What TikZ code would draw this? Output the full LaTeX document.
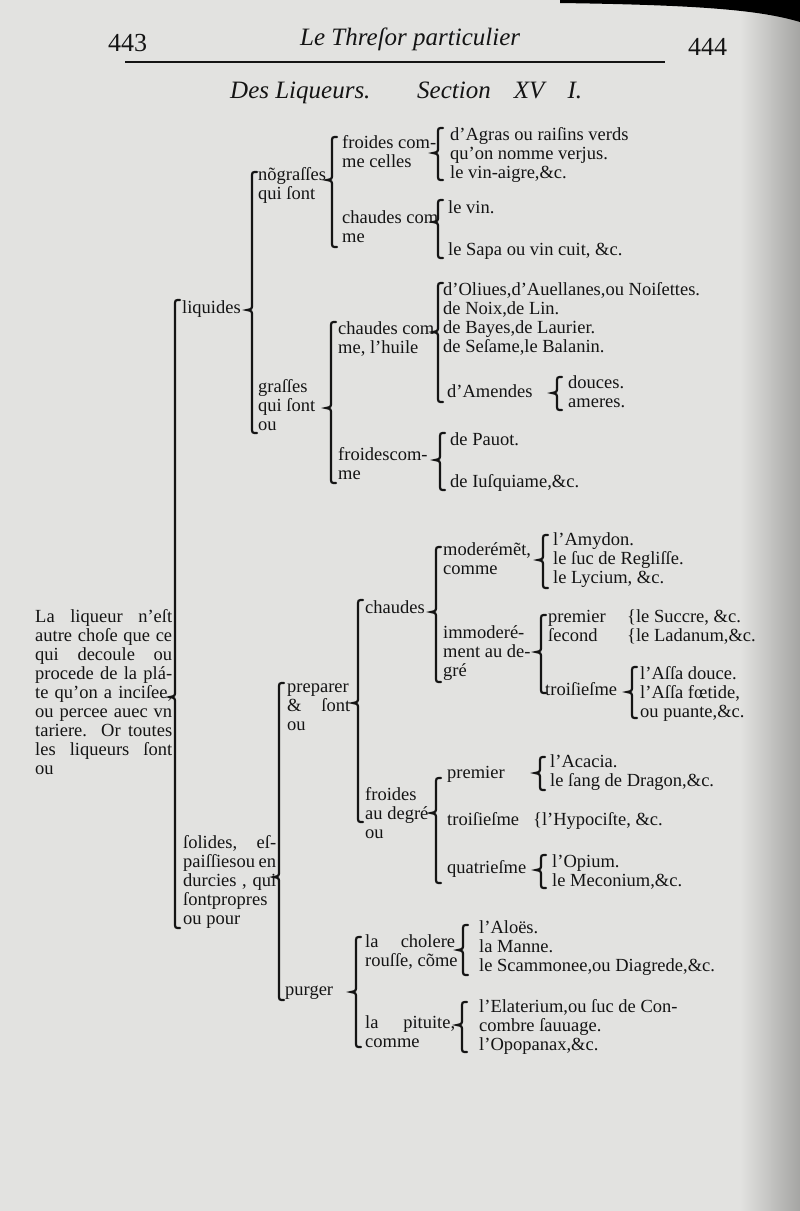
\documentclass[tikz,border=0pt]{standalone}
\usepackage{fontspec}
\setmainfont{Liberation Serif}
\usepackage{xcolor}
\definecolor{papier}{RGB}{226,226,224}
\definecolor{ombre}{RGB}{165,165,163}
\definecolor{encre}{RGB}{20,20,20}
\newcommand\corps{\fontsize{18.5}{19}\selectfont}
\newcommand\entete{\fontsize{25}{25}\selectfont\itshape}
\newcommand\folio{\fontsize{26}{26}\selectfont}
\newcommand\just[2]{\makebox[#1][s]{#2}}
% accolade: x, haut, pointe, bas
\newcommand\accol[4]{%
  \draw[accol] (#1+5,#2) .. controls (#1,#2) .. (#1,#2+6) -- (#1,#3-6)
    .. controls (#1,#3-1) .. (#1-5,#3) .. controls (#1,#3+1) .. (#1,#3+6)
    -- (#1,#4-6) .. controls (#1,#4) .. (#1+5,#4);}

\begin{document}
\begin{tikzpicture}[x=1pt,y=-1pt]
\tikzset{
    txt/.style={%
        anchor=base west,
        inner sep=0pt,
        align=left,
        text=encre,
        font=\corps
        },
    accol/.style={%
        draw=encre,
        line width=2.2pt,
        line cap=round
        },
}
%%%PAGE
\useasboundingbox (0,0) rectangle (800,1211);
\fill[papier] (0,0) rectangle (800,1211);
\shade[left color=papier, right color=ombre] (740,0) rectangle (800,1211);
\fill[black] (560,0) -- (800,0) -- (800,22) .. controls (760,10) and (700,5) .. (560,3) -- cycle;
%%%TITRE (base = last line)
\node[txt, font=\folio] (p443) at (108,51) {443};
\node[txt, font=\entete] (threfor) at (300,45) {Le Threſor particulier};
\node[txt, font=\folio] (p444) at (688,55) {444};
\draw[encre, line width=2.5pt] (125,62) -- (665,62);
\node[txt, font=\entete] (des) at (230,98) {Des Liqueurs.};
\node[txt, font=\entete] (sect) at (417,98) {\just{165pt}{Section XV I.}};
%%%RACINE
\node[txt] (racine) at (35,774) {\just{137pt}{La liqueur n'eſt}\\
  \just{137pt}{autre choſe que ce}\\ \just{137pt}{qui decoule ou}\\
  \just{137pt}{procede de la plá-}\\ \just{137pt}{te qu'on a inciſee,}\\
  \just{137pt}{ou percee auec vn}\\ \just{137pt}{tariere. Or toutes}\\
  \just{137pt}{les liqueurs ſont}\\ ou};
\accol{175}{300}{697}{928}
%%%LIQUIDES
\node[txt] (liquides) at (182,313) {liquides};
\accol{252}{172}{310}{433}
\node[txt] (nograsses) at (258,199) {nõgraſſes\\qui ſont};
\accol{332}{137}{180}{247}
\node[txt] (froidesA) at (342,167) {froides com-\\me celles};
\accol{438}{128}{153}{180}
\node[txt] (agras) at (450,178) {d'Agras ou raiſins verds\\qu'on nomme verjus.\\le vin-aigre,\&c.};
\node[txt] (chaudesA) at (342,242) {chaudes com\\me};
\accol{438}{200}{222}{258}
\node[txt] (vin) at (448,213) {le vin.};
\node[txt] (sapa) at (448,255) {le Sapa ou vin cuit, \&c.};
\node[txt] (grasses) at (258,430) {graſſes\\qui ſont\\ou};
\accol{331}{322}{408}{483}
\node[txt] (chaudesB) at (338,353) {chaudes com\\me, l'huile};
\accol{438}{283}{332}{402}
\node[txt] (huiles) at (443,352) {d'Oliues,d'Auellanes,ou Noiſettes.\\de Noix,de Lin.\\de Bayes,de Laurier.\\de Seſame,le Balanin.};
\node[txt] (amendes) at (447,397) {d'Amendes};
\accol{557}{377}{393}{410}
\node[txt] (douces) at (568,407) {douces.\\ameres.};
\node[txt] (froidesB) at (338,479) {froidescom-\\me};
\accol{440}{433}{460}{490}
\node[txt] (pauot) at (450,445) {de Pauot.};
\node[txt] (iusquiame) at (450,487) {de Iuſquiame,\&c.};
%%%SOLIDES
\node[txt] (solides) at (183,924) {\just{93pt}{ſolides, eſ-}\\ \just{93pt}{paiſſiesou en}\\
  \just{93pt}{durcies , qui}\\ ſontpropres\\ ou pour};
\accol{279}{683}{877}{1000}
\node[txt] (preparer) at (287,730) {preparer\\ \just{63pt}{\& ſont}\\ou};
\accol{358}{600}{703}{822}
\node[txt] (chaudesC) at (365,613) {chaudes};
\accol{436}{547}{612}{682}
\node[txt] (moderement) at (443,574) {moderémẽt,\\comme};
\accol{543}{535}{560}{588}
\node[txt] (amydon) at (553,583) {l'Amydon.\\le ſuc de Regliſſe.\\le Lycium, \&c.};
\node[txt] (immoderement) at (443,676) {immoderé-\\ment au de-\\gré};
\accol{541}{615}{652}{693}
\node[txt] (premierA) at (548,622) {premier};
\node[txt] (secondA) at (548,641) {ſecond};
\node[txt] (succre) at (627,622) {\{le Succre, \&c.};
\node[txt] (ladanum) at (627,641) {\{le Ladanum,\&c.};
\node[txt] (troisiemeA) at (545,695) {troiſieſme};
\accol{632}{667}{692}{718}
\node[txt] (assa) at (640,717) {l'Aſſa douce.\\l'Aſſa fœtide,\\ou puante,\&c.};
\node[txt] (froidesC) at (365,838) {froides\\au degré\\ou};
\accol{436}{778}{813}{883}
\node[txt] (premierB) at (447,778) {premier};
\accol{540}{757}{773}{790}
\node[txt] (acacia) at (550,786) {l'Acacia.\\le ſang de Dragon,\&c.};
\node[txt] (troisiemeB) at (447,825) {troiſieſme};
\node[txt] (hypociste) at (533,825) {\{l'Hypociſte, \&c.};
\node[txt] (quatrieme) at (447,873) {quatrieſme};
\accol{541}{855}{870}{888}
\node[txt] (opium) at (552,886) {l'Opium.\\le Meconium,\&c.};
%%%PURGER
\node[txt] (purger) at (285,995) {purger};
\accol{356}{937}{992}{1047}
\node[txt] (cholere) at (365,966) {\just{90pt}{la cholere}\\rouſſe, cõme};
\accol{463}{925}{950}{975}
\node[txt] (aloes) at (479,971) {l'Aloës.\\la Manne.\\le Scammonee,ou Diagrede,\&c.};
\node[txt] (pituite) at (365,1047) {\just{90pt}{la pituite,}\\comme};
\accol{462}{1002}{1025}{1052}
\node[txt] (elaterium) at (479,1050) {l'Elaterium,ou ſuc de Con-\\combre ſauuage.\\l'Opopanax,\&c.};
\end{tikzpicture}
\end{document}
